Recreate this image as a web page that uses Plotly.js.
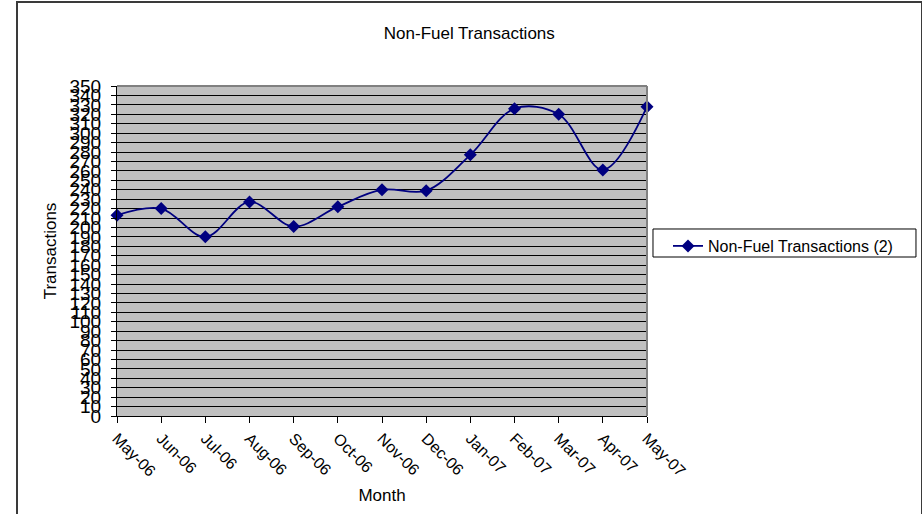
<!DOCTYPE html>
<html>
<head>
<meta charset="utf-8">
<script src="https://cdn.plot.ly/plotly-3.0.1.min.js"></script>
<style>
  html, body { margin: 0; padding: 0; background: #fff; }
  #wrap { position: relative; width: 922px; height: 514px; overflow: hidden; }
  #chart { position: absolute; left: 0; top: 0; width: 922px; height: 514px; }
  #frame { position: absolute; left: 16px; top: 1px; width: 903px; height: 600px;
           border: 2px solid #3a3a3a; pointer-events: none; }
</style>
</head>
<body>
<div id="wrap">
  <div id="chart"></div>
  <div id="frame"></div>
</div>
<script>
const months = ["May-06","Jun-06","Jul-06","Aug-06","Sep-06","Oct-06","Nov-06","Dec-06","Jan-07","Feb-07","Mar-07","Apr-07","May-07"];
const transactions = [213, 220, 190, 227, 201, 222, 240, 239, 277, 326, 320, 261, 328];
const seriesName = "Non-Fuel Transactions (2)";
const chartTitle = "Non-Fuel Transactions";
const xTitle = "Month";
const yTitle = "Transactions";

const idx = months.map((m, i) => i);
const FONT = "Liberation Sans, Arial, sans-serif";

const trace = {
  x: idx,
  y: transactions,
  name: seriesName,
  type: "scatter",
  mode: "lines+markers",
  line: { color: "#000080", width: 1.8, shape: "spline", smoothing: 1 },
  marker: { symbol: "diamond", size: 10, color: "#000080" },
  cliponaxis: false,
  showlegend: true
};

const layout = {
  width: 922,
  height: 514,
  margin: { l: 117, r: 275, t: 86, b: 98 },
  paper_bgcolor: "rgba(0,0,0,0)",
  plot_bgcolor: "#c0c0c0",
  font: { family: FONT, color: "#000", size: 14 },
  title: { text: chartTitle, font: { family: FONT, size: 17, color: "#000" },
           x: 0.509, xanchor: "center", y: 0.935, yanchor: "middle" },
  showlegend: true,
  legend: {
    x: 1.0396, xanchor: "left", y: 0.5667, yanchor: "top",
    bgcolor: "rgba(0,0,0,0)", borderwidth: 0,
    itemwidth: 30,
    font: { family: FONT, size: 16, color: "#000" }
  },
  xaxis: {
    type: "linear",
    range: [0, 12],
    tickmode: "array",
    tickvals: idx,
    ticktext: months,
    tickangle: 45,
    ticks: "outside",
    ticklen: 6,
    tickcolor: "#000",
    showline: true,
    linecolor: "#000",
    linewidth: 1,
    showgrid: false,
    zeroline: false,
    tickfont: { family: FONT, size: 16, color: "#000" },
    title: { text: xTitle, font: { family: FONT, size: 17, color: "#000" }, standoff: 10 }
  },
  yaxis: {
    range: [0, 350],
    dtick: 10,
    tick0: 0,
    ticks: "outside",
    ticklen: 5,
    tickcolor: "#000",
    ticklabelstandoff: 6,
    showline: true,
    linecolor: "#000",
    linewidth: 1,
    showgrid: true,
    gridcolor: "#000",
    gridwidth: 1,
    zeroline: false,
    tickfont: { family: FONT, size: 19, color: "#000" },
    title: { text: yTitle, font: { family: FONT, size: 17, color: "#000" }, standoff: 8 }
  },
  shapes: [
    { type: "line", xref: "paper", yref: "paper", x0: 0, x1: 1, y0: 1, y1: 1,
      line: { color: "#808080", width: 2 } },
    { type: "line", xref: "paper", yref: "paper", x0: 1, x1: 1, y0: 0, y1: 1,
      line: { color: "#808080", width: 2 } },
    { type: "rect", xref: "paper", yref: "paper", x0: 1.0113, x1: 1.5075, y0: 0.4818, y1: 0.5667,
      line: { color: "#000", width: 1 }, fillcolor: "rgba(0,0,0,0)" }
  ]
};

Plotly.newPlot("chart", [trace], layout, { displayModeBar: false, staticPlot: true });
</script>
</body>
</html>
